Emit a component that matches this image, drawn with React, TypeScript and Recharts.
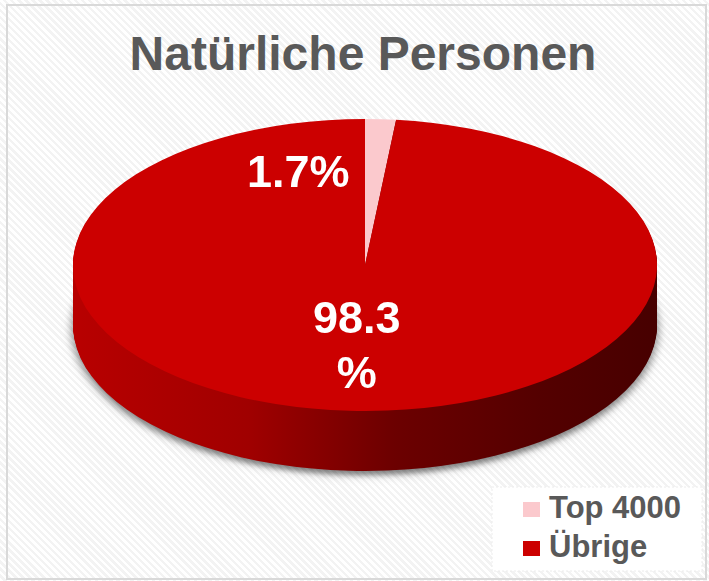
import React from "react";
import { PieChart, Pie, Cell } from "recharts";

const title = "Natürliche Personen";
const categories = ["Top 4000", "Übrige"];
const shares = [1.7, 98.3];
const labelLines = [["1.7%"], ["98.3", "%"]];
const topColors = ["#fbc9cd", "#cc0000"];

const data = categories.map((name, i) => ({ name, value: shares[i] }));

const W = 709;
const H = 581;
const CX = 365;
const CY = 265; // screen centre of top face
const R = 292; // horizontal radius, vertical is R / 2
const DEPTH = 60; // side height in screen px
const FONT = "'Liberation Sans', Arial, Helvetica, sans-serif";

// offsets (screen px) of the side slices, deepest first
const sideLayers = Array.from({ length: DEPTH }, (_, i) => DEPTH - i);

const labelShift = [
  { dx: -75, dy: -17 },
  { dx: 0, dy: 2 },
];

const renderLabel = (p: any) => {
  const { cx, cy, midAngle, outerRadius, index } = p;
  const rad = (-midAngle * Math.PI) / 180;
  const x = cx + outerRadius * 0.53 * Math.cos(rad) + labelShift[index].dx;
  const yc = (cy + outerRadius * 0.53 * Math.sin(rad)) / 2 + labelShift[index].dy;
  const lines = labelLines[index];
  const first = yc - ((lines.length - 1) * 55) / 2 + 16;
  return (
    <text
      transform="scale(1,2)"
      x={x}
      y={first}
      textAnchor="middle"
      fill="#ffffff"
      fontSize={45}
      fontWeight="bold"
      fontFamily={FONT}
    >
      {lines.map((l, j) => (
        <tspan key={j} x={x} y={first + j * 55}>
          {l}
        </tspan>
      ))}
    </text>
  );
};

export default function App() {
  return (
    <div
      style={{
        position: "absolute",
        left: 0,
        top: 0,
        width: W,
        height: H,
        overflow: "hidden",
        background:
          "repeating-linear-gradient(45deg, #ffffff 0px, #ffffff 2.5px, #f3f3f3 2.5px, #f3f3f3 5px)",
      }}
    >
      <style>{`.pie-shadow { filter: drop-shadow(0px 8px 5px rgba(0,0,0,0.28)); }`}</style>
      <div
        style={{
          position: "absolute",
          left: 6,
          top: 4,
          width: 697,
          height: 572,
          border: "2px solid #d9d9d9",
        }}
      />
      <div
        style={{
          position: "absolute",
          left: 0,
          top: 0,
          width: W,
          height: H * 2,
          transform: "scaleY(0.5)",
          transformOrigin: "0 0",
        }}
      >
        <PieChart width={W} height={H * 2} margin={{ top: 0, right: 0, bottom: 0, left: 0 }}>
          <defs>
            <linearGradient id="sideGrad" gradientUnits="userSpaceOnUse" x1={CX - R} y1={0} x2={CX + R} y2={0}>
              <stop offset="0%" stopColor="#b80000" />
              <stop offset="30%" stopColor="#a00000" />
              <stop offset="55%" stopColor="#6c0000" />
              <stop offset="80%" stopColor="#540000" />
              <stop offset="100%" stopColor="#470000" />
            </linearGradient>
          </defs>
          {sideLayers.map((off) => (
            <Pie
              key={`side-${off}`}
              className={off === DEPTH ? "pie-shadow" : undefined}
              data={data}
              dataKey="value"
              nameKey="name"
              cx={CX}
              cy={CY * 2 + off * 2}
              outerRadius={R}
              startAngle={90}
              endAngle={-270}
              stroke="none"
              legendType="none"
              isAnimationActive={false}
            >
              {data.map((d) => (
                <Cell key={d.name} fill="url(#sideGrad)" />
              ))}
            </Pie>
          ))}
          <Pie
            data={data}
            dataKey="value"
            nameKey="name"
            cx={CX}
            cy={CY * 2}
            outerRadius={R}
            startAngle={90}
            endAngle={-270}
            stroke="none"
            label={renderLabel}
            labelLine={false}
            isAnimationActive={false}
          >
            {data.map((d, i) => (
              <Cell key={d.name} fill={topColors[i]} />
            ))}
          </Pie>
        </PieChart>
      </div>
      <svg
        width={W}
        height={H}
        style={{ position: "absolute", left: 0, top: 0, pointerEvents: "none" }}
      >
        <text
          x={363}
          y={70}
          textAnchor="middle"
          fill="#595959"
          fontSize={48}
          fontWeight="bold"
          fontFamily={FONT}
        >
          {title}
        </text>
        <rect x={492} y={487} width={210} height={84} fill="#ffffff" stroke="#ececec" strokeDasharray="2 2" />
        {categories.map((c, i) => (
          <g key={c}>
            <rect x={523} y={502 + i * 39} width={17} height={15} fill={topColors[i]} />
            <text
              x={549}
              y={518 + i * 39}
              fill="#595959"
              fontSize={31}
              fontWeight="bold"
              fontFamily={FONT}
            >
              {c}
            </text>
          </g>
        ))}
      </svg>
    </div>
  );
}
